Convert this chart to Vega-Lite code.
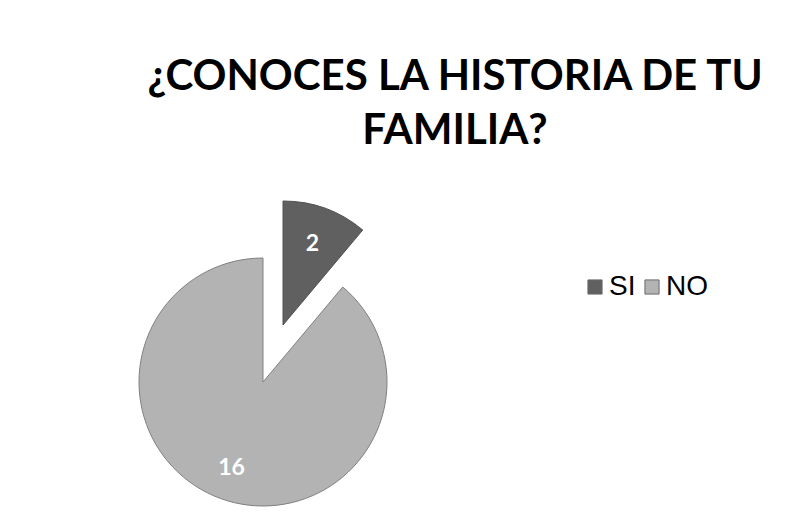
{
  "$schema": "https://vega.github.io/schema/vega-lite/v6.json",
  "width": 526,
  "height": 248,
  "autosize": {"type": "none"},
  "padding": {"left": 0, "top": 258, "right": 283, "bottom": 15},
  "background": "white",
  "config": {"view": {"stroke": null}},
  "title": {
    "text": ["¿CONOCES LA HISTORIA DE TU", "FAMILIA?"],
    "font": "Lato",
    "fontSize": 42,
    "fontWeight": "bold",
    "color": "black",
    "anchor": "middle",
    "dx": 192,
    "offset": 46,
    "lineHeight": 54
  },
  "data": {
    "values": [
      {"respuesta": "SI", "cantidad": 2},
      {"respuesta": "NO", "cantidad": 16}
    ]
  },
  "encoding": {
    "theta": {"field": "cantidad", "type": "quantitative", "stack": true},
    "order": {"field": "respuesta", "sort": "descending"},
    "color": {
      "field": "respuesta",
      "type": "nominal",
      "scale": {"domain": ["SI", "NO"], "range": ["#606060", "#B3B3B3"]},
      "legend": {
        "orient": "none",
        "legendX": 581,
        "legendY": 15,
        "direction": "horizontal",
        "title": null,
        "symbolType": "square",
        "symbolSize": 200,
        "symbolStrokeColor": "#6a6a6a",
        "symbolStrokeWidth": 1,
        "labelFont": "Liberation Sans",
        "labelFontSize": 28,
        "labelColor": "black",
        "labelOffset": 0,
        "columnPadding": 2
      }
    }
  },
  "layer": [
    {
      "mark": {"type": "arc", "outerRadius": 124, "stroke": "#808080", "strokeWidth": 1},
      "encoding": {
        "opacity": {"condition": {"test": "datum.respuesta == 'NO'", "value": 1}, "value": 0}
      }
    },
    {
      "mark": {"type": "arc", "outerRadius": 124, "stroke": "#505050", "strokeWidth": 1, "xOffset": 20, "yOffset": -57},
      "encoding": {
        "opacity": {"condition": {"test": "datum.respuesta == 'SI'", "value": 1}, "value": 0}
      }
    },
    {
      "mark": {"type": "text", "radius": 92, "font": "Lato", "fontSize": 23, "fontWeight": "bold"},
      "encoding": {
        "text": {"field": "cantidad", "type": "quantitative"},
        "color": {"value": "white"},
        "opacity": {"condition": {"test": "datum.respuesta == 'NO'", "value": 1}, "value": 0}
      }
    },
    {
      "mark": {"type": "text", "radius": 86, "font": "Lato", "fontSize": 23, "fontWeight": "bold", "xOffset": 20, "yOffset": -57},
      "encoding": {
        "text": {"field": "cantidad", "type": "quantitative"},
        "color": {"value": "white"},
        "opacity": {"condition": {"test": "datum.respuesta == 'SI'", "value": 1}, "value": 0}
      }
    }
  ]
}
